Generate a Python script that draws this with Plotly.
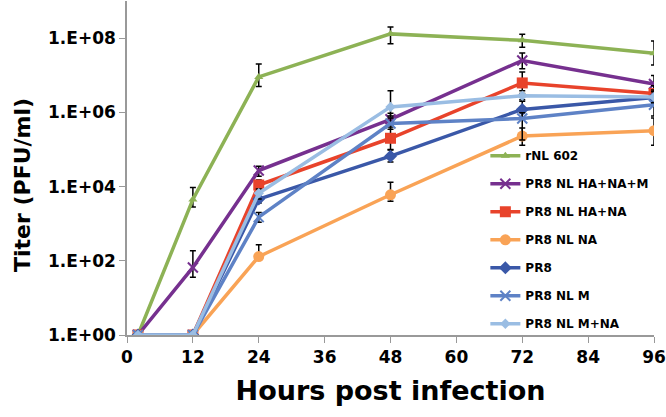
import plotly.graph_objects as go

hours = [2, 12, 24, 48, 72, 96]

names = ["rNL 602", "PR8 NL HA+NA+M", "PR8 NL HA+NA", "PR8 NL NA", "PR8", "PR8 NL M", "PR8 NL M+NA"]

rnl602 = [1, 4.5e3, 9.0e6, 1.3e8, 8.7e7, 3.9e7]
ha_na_m = [1, 66, 2.7e4, 6.5e5, 2.5e7, 5.8e6]
ha_na = [1, 1, 1.1e4, 2.0e5, 6.2e6, 3.2e6]
na = [1, 1, 130, 6.0e3, 2.3e5, 3.2e5]
pr8 = [1, 1, 4.6e3, 6.6e4, 1.2e6, 2.5e6]
nl_m = [1, 1, 1.5e3, 5.0e5, 6.8e5, 1.6e6]
m_na = [1, 1, 6.6e3, 1.4e6, 2.8e6, 2.6e6]

err_plus = [
    [0, 5.0e3, 1.1e7, 7.0e7, 4.0e7, 4.5e7],
    [0, 120, 8.0e3, 3.0e5, 1.5e7, 4.0e6],
    [0, 0, 4.0e3, 2.0e5, 6.0e6, 2.0e6],
    [0, 0, 140, 7.0e3, 1.5e5, 3.8e5],
    [0, 0, 1.5e3, 3.0e4, 1.0e6, 1.5e6],
    [0, 0, 5.0e2, 2.0e5, 3.0e5, 1.0e6],
    [0, 0, 2.0e3, 2.4e6, 1.0e6, 1.0e6],
]
err_minus = [
    [0, 1.7e3, 4.0e6, 6.0e7, 3.0e7, 2.0e7],
    [0, 30, 8.0e3, 2.0e5, 1.0e7, 3.0e6],
    [0, 0, 3.0e3, 1.0e5, 3.0e6, 1.5e6],
    [0, 0, 0, 2.0e3, 1.0e5, 1.9e5],
    [0, 0, 1.0e3, 2.0e4, 5.0e5, 1.0e6],
    [0, 0, 4.0e2, 1.5e5, 5.0e5, 8.0e5],
    [0, 0, 2.0e3, 6.0e5, 8.0e5, 8.0e5],
]

series = [rnl602, ha_na_m, ha_na, na, pr8, nl_m, m_na]
colors = ["#8DB255", "#76308F", "#E8432B", "#F9A356", "#3A58A8", "#5E82C6", "#9ABDE3"]
symbols = ["triangle-up", "x-thin", "square", "circle", "diamond", "x-thin", "diamond"]
msizes = [8, 10, 11, 11, 10, 10, 8]

ytick_vals = [1, 1e2, 1e4, 1e6, 1e8]
ytick_text = ["1.E+00", "1.E+02", "1.E+04", "1.E+06", "1.E+08"]
xtick_vals = [0, 12, 24, 36, 48, 60, 72, 84, 96]

FONT = "'DejaVu Sans', Arial, sans-serif"

fig = go.Figure()
for i, (nm, ys) in enumerate(zip(names, series)):
    sym = symbols[i]
    marker = dict(symbol=sym, size=msizes[i], color=colors[i])
    if sym == "x-thin":
        marker["line"] = dict(color=colors[i], width=2)
    fig.add_trace(go.Scatter(
        x=hours, y=ys, name=nm, mode="lines+markers",
        legendgroup=nm,
        line=dict(color=colors[i], width=3.5),
        marker=marker,
        error_y=dict(type="data", symmetric=False, array=err_plus[i],
                     arrayminus=err_minus[i], color="black", thickness=1.5, width=3),
    ))

fig.add_annotation(
    text="Titer (PFU/ml)", textangle=-90, showarrow=False,
    xref="paper", yref="paper", x=0, y=0.449, xanchor="center", yanchor="middle",
    xshift=-105, font=dict(size=22, family=FONT, weight="bold", color="black"),
)

fig.update_layout(
    width=666, height=417,
    margin=dict(l=127, r=12, t=1, b=82),
    paper_bgcolor="white", plot_bgcolor="white",
    font=dict(family=FONT, color="black"),
    showlegend=True,
    legend=dict(x=0.68, y=0.58, xanchor="left", yanchor="top",
                font=dict(family=FONT, size=12, color="black", weight="bold"),
                bgcolor="rgba(0,0,0,0)", tracegroupgap=9, itemwidth=30),
    xaxis=dict(range=[0, 96], tickvals=xtick_vals, showgrid=False, zeroline=False,
               showline=True, linecolor="#999999", linewidth=1.5,
               ticks="outside", ticklen=6, tickcolor="#999999",
               tickfont=dict(size=17, family=FONT, weight="bold"),
               title=dict(text="Hours post infection", font=dict(size=27, family=FONT, weight="bold"),
                          standoff=15)),
    yaxis=dict(type="log", range=[0, 9], tickvals=ytick_vals, ticktext=ytick_text,
               showgrid=False, zeroline=False,
               showline=True, linecolor="#999999", linewidth=1.5,
               ticks="outside", ticklen=6, tickcolor="#999999",
               tickfont=dict(size=17, family=FONT, weight="bold")),
)

fig.write_html("out.html", post_script="document.body.style.margin='0';",
               config={"displayModeBar": False})
